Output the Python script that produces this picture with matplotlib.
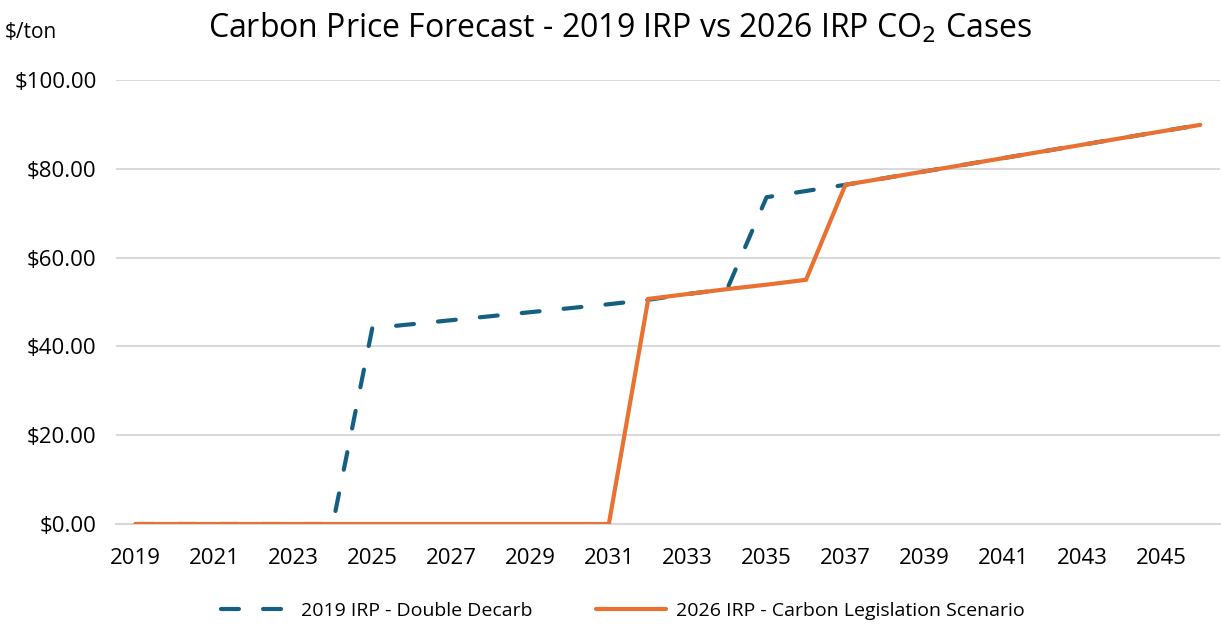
import matplotlib.pyplot as plt
import numpy as np

plt.rcParams['font.family'] = ['Open Sans', 'DejaVu Sans']

years = np.arange(2019, 2047)
irp_2019 = [0, 0, 0, 0, 0, 0, 44.1, 45.0, 45.9, 46.8, 47.7, 48.6, 49.5, 50.5,
            51.8, 52.9, 73.6, 75.0, 76.4, 77.9, 79.4, 80.9, 82.4, 83.9, 85.4, 86.9, 88.4, 89.9]
irp_2026 = [0, 0, 0, 0, 0, 0, 0, 0, 0, 0, 0, 0, 0, 50.7,
            51.8, 52.9, 53.9, 55.0, 76.4, 77.9, 79.4, 80.9, 82.4, 83.9, 85.4, 86.9, 88.4, 89.9]
yticks = [0, 20, 40, 60, 80, 100]

fig = plt.figure(figsize=(12.21, 6.28), dpi=100)
ax = fig.add_axes([116 / 1221, 104 / 628, 1104 / 1221, 444 / 628])

ax.plot(years, irp_2019, color='#156082', lw=3, dashes=(4.3, 5.8),
        dash_capstyle='round', solid_capstyle='round',
        label='2019 IRP - Double Decarb', zorder=3)
ax.plot(years, irp_2026, color='#E97132', lw=3, solid_capstyle='round',
        solid_joinstyle='miter', label='2026 IRP - Carbon Legislation Scenario', zorder=4)

ax.set_xlim(2018.5, 2046.5)
ax.set_ylim(0, 100)
ax.set_xticks(years[::2])
ax.set_xticklabels([str(y) for y in years[::2]], fontsize=16)
ax.set_yticks(yticks)
ax.set_yticklabels(['${:.2f}'.format(v) for v in yticks], fontsize=16)
ax.tick_params(axis='x', length=0, pad=17)
ax.tick_params(axis='y', length=0, pad=14)
ax.grid(axis='y', color='#D9D9D9', lw=1.5)
ax.set_axisbelow(True)
for s in ['top', 'right', 'left']:
    ax.spines[s].set_visible(False)
ax.spines['bottom'].set_color('#D9D9D9')
ax.spines['bottom'].set_linewidth(1.5)

fig.text(0.508, 0.955, 'Carbon Price Forecast - 2019 IRP vs 2026 IRP CO$_2$ Cases',
         ha='center', va='center', fontsize=23)
fig.text(5 / 1221, 1 - 33 / 628, '$/ton', ha='left', va='center', fontsize=15)

fig.legend(loc='center', bbox_to_anchor=(0.51, 1 - 611 / 628), ncol=2, frameon=False,
           fontsize=14, handlelength=3.6, handletextpad=0.5, columnspacing=3.3)

fig.savefig('out.png', dpi=100)
